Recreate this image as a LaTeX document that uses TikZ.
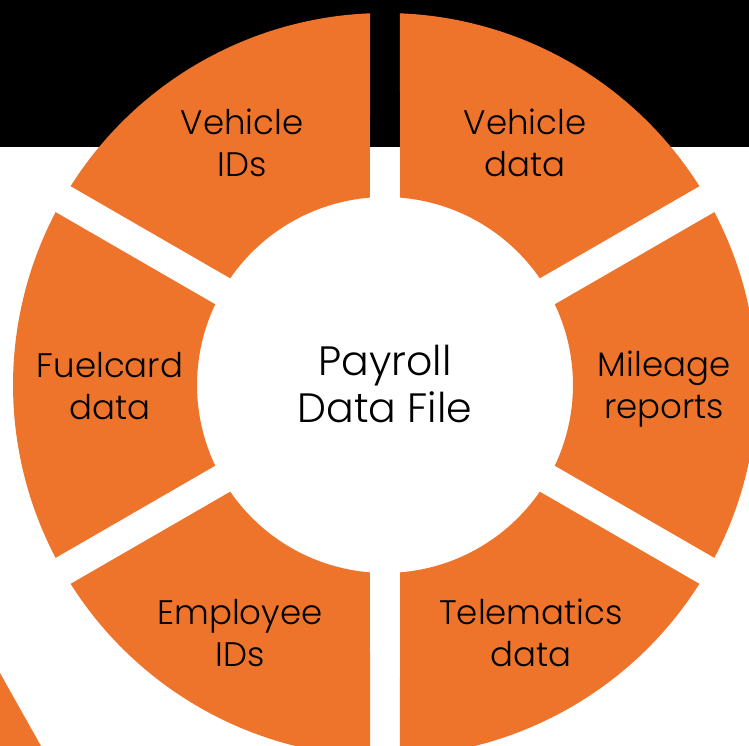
\documentclass[tikz,border=0pt]{standalone}
\usepackage{fontspec}
\setmainfont{Poppins}[UprightFont=* Light]
\definecolor{ringorange}{HTML}{EF742B}
\begin{document}
\begin{tikzpicture}[x=1pt,y=1pt,
  ringpart/.style={fill=ringorange, draw=none},
  partlabel/.style={align=center, text=black, inner sep=0pt,
    font=\fontsize{34}{42}\selectfont},
  hublabel/.style={align=center, text=black, inner sep=0pt,
    font=\fontsize{41}{47}\selectfont}]
% canvas
\useasboundingbox (-385,-361) rectangle (364,385);
\clip (-385,-361) rectangle (364,385);
\fill[white] (-385,-361) rectangle (364,385);
\fill[black] (-385,238) rectangle (364,385);
\fill[ringorange] (-385,-288) -- (-344,-361) -- (-385,-361) -- cycle;

% six ring segments with parallel white gaps (half gap 15)
\def\Ro{372}\def\Ri{188}\def\dO{2.31}\def\dI{4.58}
\foreach \a in {-90,-30,30,90,150,210} {
  \fill[ringpart] (\a+\dO:\Ro)
    arc[start angle=\a+\dO, end angle=\a+60-\dO, radius=\Ro]
    -- (\a+60-\dI:\Ri)
    arc[start angle=\a+60-\dI, end angle=\a+\dI, radius=\Ri] -- cycle;
}

% labels
\node[hublabel] (hub) at (0,1) {Payroll\\Data File};
\node[partlabel] (vid) at (-143,242) {Vehicle\\IDs};
\node[partlabel] (vdata) at (140,242) {Vehicle\\data};
\node[partlabel] (fuel) at (-275,-1) {Fuelcard\\data};
\node[partlabel] (mile) at (279,-4) {Mileage\\reports};
\node[partlabel] (emp) at (-145,-248) {Employee\\IDs};
\node[partlabel] (tele) at (146,-248) {Telematics\\data};
\end{tikzpicture}
\end{document}
